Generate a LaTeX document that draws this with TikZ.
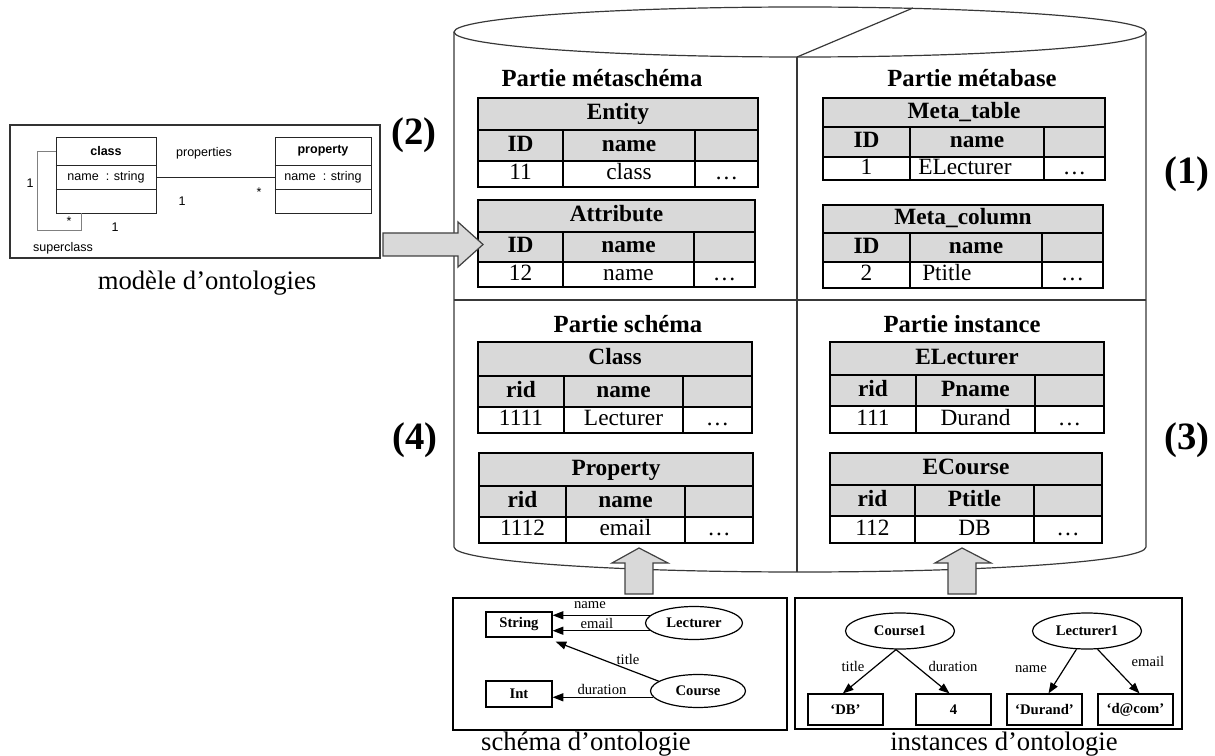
\documentclass[tikz,border=0pt]{standalone}
\usepackage{fontspec}
\setmainfont{Liberation Serif}
\setsansfont{Liberation Sans}
\usetikzlibrary{shapes.geometric,arrows.meta}
\newcommand\tabfont{\fontsize{17.5pt}{20pt}\selectfont}
\newcommand\partfont{\fontsize{18.5pt}{21pt}\selectfont\bfseries}
\newcommand\numfont{\fontsize{29pt}{32pt}\selectfont\bfseries}
\newcommand\umlfont{\sffamily\fontsize{9.4pt}{11pt}\selectfont}
\newcommand\ontfont{\fontsize{11pt}{13pt}\selectfont}
\newcommand\capfont{\fontsize{20pt}{23pt}\selectfont}
\newcommand\tgeom[8]{\def\dbL{#1}\def\dbR{#2}\def\dbT{#3}\def\dbA{#4}\def\dbB{#5}\def\dbD{#6}\def\dbCa{#7}\def\dbCb{#8}}
\newcommand\dbtable[7]{%
  \fill[hdr] (\dbL,\dbT) rectangle (\dbR,\dbB);
  \draw[tline] (\dbL,\dbT) rectangle (\dbR,\dbD) (\dbL,\dbA) -- (\dbR,\dbA) (\dbL,\dbB) -- (\dbR,\dbB)
     (\dbCa,\dbA) -- (\dbCa,\dbD) (\dbCb,\dbA) -- (\dbCb,\dbD);
  \node[tbold] (#1-title) at ({(\dbL+\dbR)/2},{(\dbT+\dbA)/2}) {#2};
  \node[tbold] (#1-h1) at ({(\dbL+\dbCa)/2},{(\dbA+\dbB)/2}) {#3};
  \node[tbold] (#1-h2) at ({(\dbCa+\dbCb)/2},{(\dbA+\dbB)/2}) {#4};
  \node[treg] (#1-d1) at ({(\dbL+\dbCa)/2},{(\dbB+\dbD)/2}) {#5};
  \node[treg] (#1-d2) at ({(\dbCa+\dbCb)/2},{(\dbB+\dbD)/2}) {#6};
  \node[treg] (#1-d3) at ({(\dbCb+\dbR)/2},{(\dbB+\dbD)/2}) {#7};
}
\begin{document}
\begin{tikzpicture}[x=0.75pt,y=-0.75pt,
  cyl/.style={draw=black!78,line width=0.9pt},
  tline/.style={draw=black,line width=1.2pt},
  hdr/.style={fill=black!15},
  tbold/.style={font=\tabfont\bfseries,inner sep=0pt,text height=12pt,text depth=3.5pt},
  treg/.style={font=\tabfont,inner sep=0pt,text height=12pt,text depth=3.5pt},
  ptitle/.style={font=\partfont,inner sep=0pt},
  numlbl/.style={font=\numfont,inner sep=0pt},
  umltxt/.style={font=\umlfont,inner sep=0pt},
  thinl/.style={draw=black!85,line width=0.6pt},
  blockarr/.style={fill=black!15,draw=black!75,line width=0.9pt,line join=miter},
  boxl/.style={draw=black,line width=0.9pt},
  ontnode/.style={draw=black,line width=0.9pt,font=\ontfont\bfseries,inner sep=0pt},
  ontlbl/.style={font=\ontfont,inner sep=0pt},
  arr/.style={-{Triangle[length=8pt,width=6pt]},line width=0.9pt},
  caption/.style={font=\capfont,inner sep=0pt,anchor=base}]
\useasboundingbox (0,0) rectangle (1215,756);

% ---------- cylinder ----------
\draw[cyl] (454,32) -- (454,547) .. controls (454,561) and (609,572) .. (800,572)
   .. controls (991,572) and (1146,561) .. (1146,547) -- (1146,32);
\draw[cyl] (800,32) ellipse [x radius=259.5pt, y radius=18.75pt];
\draw[cyl] (797,57) -- (797,572);
\draw[cyl] (797,57) -- (913,8);
\draw[cyl] (454,300) -- (1146,300);

\node[ptitle] (p1) at (602,78) {Partie métaschéma};
\node[ptitle] (p2) at (972,78) {Partie métabase};
\node[ptitle] (p3) at (628,324) {Partie schéma};
\node[ptitle] (p4) at (962,324) {Partie instance};

\node[numlbl] (n2) at (414,135) {(2)};
\node[numlbl] (n1) at (1187,174) {(1)};
\node[numlbl] (n4) at (415,440) {(4)};
\node[numlbl] (n3) at (1187,440) {(3)};

% ---------- tables ----------
\tgeom{478}{758}{98}{130}{161}{187}{563}{695}\dbtable{ent}{Entity}{ID}{name}{11}{class}{…}
\tgeom{478}{755}{200}{232}{262}{287}{563}{694}\dbtable{att}{Attribute}{ID}{name}{12}{name}{…}
\tgeom{823}{1105}{98}{127}{157}{180}{910}{1044}\dbtable{mt}{Meta\_table}{ID}{name}{1}{}{…}
\node[treg,anchor=west] (mt-d2l) at (918,168.5) {ELecturer};
\tgeom{823}{1103}{205}{233}{262}{288}{910}{1042}\dbtable{mc}{Meta\_column}{ID}{name}{2}{}{…}
\node[treg,anchor=west] (mc-d2l) at (922,275) {Ptitle};
\tgeom{478}{752}{342}{376}{407}{433}{564}{683}\dbtable{cl}{Class}{rid}{name}{1111}{Lecturer}{…}
\tgeom{479}{753}{453}{486}{517}{543}{566}{685}\dbtable{pr}{Property}{rid}{name}{1112}{email}{…}
\tgeom{830}{1104}{342}{375}{406}{433}{916}{1035}\dbtable{el}{ELecturer}{rid}{Pname}{111}{Durand}{…}
\tgeom{830}{1102}{453}{485}{516}{543}{915}{1034}\dbtable{ec}{ECourse}{rid}{Ptitle}{112}{DB}{…}

% ---------- UML model ----------
\node[draw=black!80,line width=1pt,minimum width=277.5pt,minimum height=99.75pt,inner sep=0pt] (uml) at (195,191.5) {};
\node[draw=black!85,line width=0.7pt,minimum width=75pt,minimum height=57pt,inner sep=0pt] (cls) at (106,175) {};
\node[umltxt,font=\umlfont\bfseries,minimum width=75pt,minimum height=21pt] (clsname) at (106,151) {class};
\node[umltxt,minimum width=75pt,minimum height=18pt] (clsattr) at (106,177) {name\ \ : string};
\draw[thinl] (clsname.south west) -- (clsname.south east) (clsattr.south west) -- (clsattr.south east);
\node[draw=black!85,line width=0.7pt,minimum width=72pt,minimum height=57pt,inner sep=0pt] (prop) at (323,175) {};
\node[umltxt,font=\umlfont\bfseries,minimum width=72pt,minimum height=21pt] (propname) at (323,151) {property};
\node[umltxt,minimum width=72pt,minimum height=18pt] (propattr) at (323,177) {name\ \ : string};
\draw[thinl] (propname.south west) -- (propname.south east) (propattr.south west) -- (propattr.south east);
\draw[thinl] (clsattr.east) -- (propattr.west);
\node[umltxt] (lprops) at (204,153) {properties};
\node[umltxt] (lone1) at (182,201) {1};
\node[umltxt] (lstar1) at (259,192) {*};
\coordinate (loopend) at (81,213);
\draw[draw=black!50,line width=0.7pt] (clsname.west) -- ++(-18,0) -- ++(0,79) -| (loopend);
\node[umltxt] (lone2) at (30,183) {1};
\node[umltxt] (lstar2) at (69,221) {*};
\node[umltxt] (lone3) at (115,227) {1};
\node[umltxt] (lsuper) at (63,248) {superclass};
\node[caption] (capmod) at (207,290) {modèle d’ontologies};

% ---------- block arrows ----------
\draw[blockarr] (383,233) -- (458,233) -- (458,222) -- (483,244.5) -- (458,267) -- (458,256) -- (383,256) -- cycle;
\draw[blockarr] (625,594) -- (625,563) -- (612,563) -- (639,548) -- (668,563) -- (653,563) -- (653,594) -- cycle;
\draw[blockarr] (948,594) -- (948,563) -- (935,563) -- (962,548) -- (991,563) -- (976,563) -- (976,594) -- cycle;

% ---------- ontology schema ----------
\node[boxl,minimum width=250.5pt,minimum height=99pt,inner sep=0pt] (schbox) at (620,664) {};
\node[ontnode,minimum width=49.5pt,minimum height=18.75pt] (str) at (519,624.5) {String};
\node[ontnode,minimum width=49.5pt,minimum height=19.5pt] (int) at (519,694) {Int};
\node[ontnode,ellipse,minimum width=72.75pt,minimum height=24.75pt] (lec) at (694,623) {Lecturer};
\node[ontnode,ellipse,minimum width=71.25pt,minimum height=24.75pt] (cou) at (698,691) {Course};
\draw[arr] (lec.170) -- (lec.170 -| str.east);
\draw[arr] (lec.190) -- (lec.190 -| str.east);
\draw[arr] (cou.166) -- ([shift={(3,4)}]str.south east);
\draw[arr] (cou.188) -- (cou.188 -| int.east);
\node[ontlbl] (lname) at (590,605) {name};
\node[ontlbl] (lemail) at (597,623) {email};
\node[ontlbl] (ltitle) at (628,659) {title};
\node[ontlbl] (ldur) at (602,689) {duration};
\node[caption] (capsch) at (586,750) {schéma d’ontologie};

% ---------- ontology instances ----------
\node[boxl,minimum width=290.25pt,minimum height=98.25pt,inner sep=0pt] (insbox) at (988.5,663.5) {};
\node[ontnode,ellipse,minimum width=81.75pt,minimum height=27pt] (c1) at (900,631) {Course1};
\node[ontnode,ellipse,minimum width=81.75pt,minimum height=27pt] (l1) at (1087,631) {Lecturer1};
\node[ontnode,minimum width=56.25pt,minimum height=23.25pt] (vdb) at (845.5,709.5) {‘DB’};
\node[ontnode,minimum width=56.25pt,minimum height=23.25pt] (v4) at (953.5,709.5) {4};
\node[ontnode,minimum width=56.25pt,minimum height=23.25pt] (vdur) at (1044.5,709.5) {‘Durand’};
\node[ontnode,minimum width=56.25pt,minimum height=23.25pt] (vmail) at (1135.5,709.5) {‘d@com’};
\draw[arr] ([xshift=-3pt]c1.south) -- ([xshift=-2pt]vdb.north);
\draw[arr] ([xshift=-3pt]c1.south) -- ([xshift=-3pt]v4.north);
\draw[arr] (l1.240) -- ([xshift=3pt]vdur.north);
\draw[arr] (l1.300) -- ([xshift=3pt]vmail.north);
\node[ontlbl] (ititle) at (853,666) {title};
\node[ontlbl] (idur) at (953,666) {duration};
\node[ontlbl] (iname) at (1031,669) {name};
\node[ontlbl] (iemail) at (1148,661) {email};
\node[caption] (capins) at (1004,750) {instances d’ontologie};
\end{tikzpicture}
\end{document}
